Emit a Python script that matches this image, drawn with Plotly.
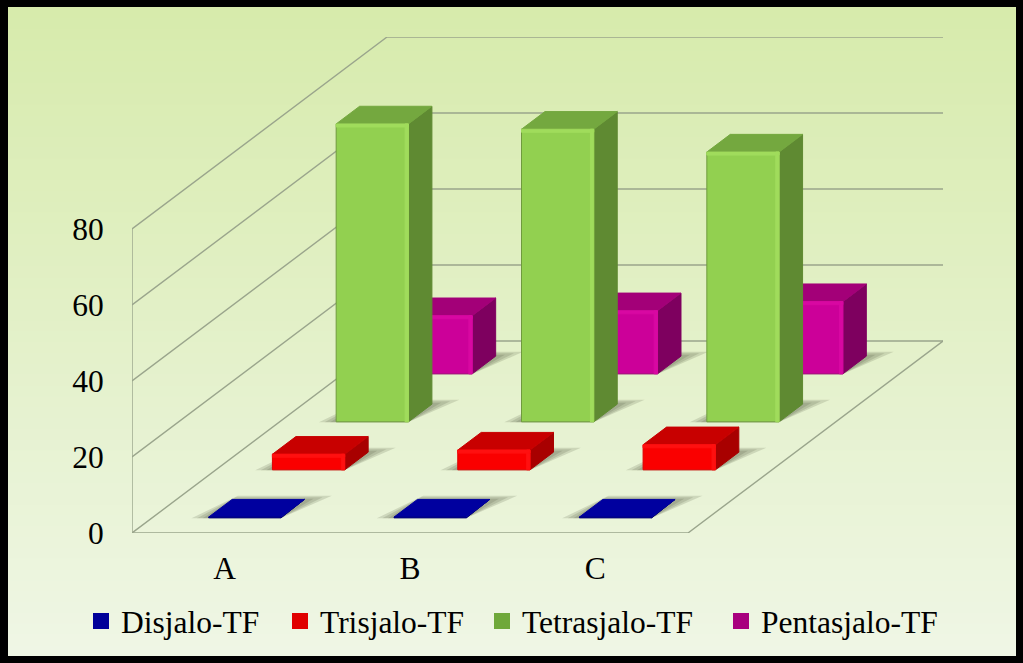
import plotly.graph_objects as go

# values
CATEGORIES = ["A", "B", "C"]
Y_TICKS = [0, 20, 40, 60, 80]
SERIES_NAMES = ["Disjalo-TF", "Trisjalo-TF", "Tetrasjalo-TF", "Pentasjalo-TF"]
DISJALO = [0.2, 0.2, 0.2]
TRISJALO = [4.1, 5.2, 6.6]
TETRASJALO = [78.4, 77.0, 71.0]
PENTASJALO = [15.3, 16.6, 19.0]
SERIES_VALUES = [DISJALO, TRISJALO, TETRASJALO, PENTASJALO]

# front, top, side, bevel, outline
SERIES_COLORS = [
    ("#000099", "#00009f", "#000070", "#0000b0", "#000080"),
    ("#fa0000", "#c80000", "#a80000", "#ff1010", "#e00000"),
    ("#92d050", "#74a83f", "#5f8a32", "#a0dc5c", "#6f9a3e"),
    ("#cc0099", "#a30078", "#7e005f", "#d808a2", "#a8007e"),
]
LEGEND_SWATCHES = ["#000099", "#e00000", "#6fa83a", "#a8007e"]
LEGEND_X = [81, 280, 482, 721]

FONT = "Liberation Serif"
LINE = "#9aa58c"

# plot area in page pixels
LEFT, RIGHT, TOP, BOTTOM = 132, 943, 37, 533
PX_PER_CAT = 185.33
PX_PER_UNIT = 3.8
X_MIN = -0.5
X_MAX = X_MIN + (RIGHT - LEFT) / PX_PER_CAT
Y_MAX = (BOTTOM - TOP) / PX_PER_UNIT

# the box runs back and up to the right, one full depth in axis units
DEPTH_X = 255 / PX_PER_CAT
DEPTH_Y = 192 / PX_PER_UNIT
BAR_HALF = 0.195
BAR_DEPTH = 0.092
BEVEL_X = 0.018
BEVEL_Y = 0.8


def project(x, depth, value):
    return x + depth * DEPTH_X, value + depth * DEPTH_Y


def polygons(polys):
    xs, ys = [], []
    for poly in polys:
        for x, d, v in poly + poly[:1]:
            px, py = project(x, d, v)
            xs.append(px)
            ys.append(py)
        xs.append(None)
        ys.append(None)
    return xs, ys


def add_polys(fig, polys, color, line_color=None):
    xs, ys = polygons(polys)
    fig.add_trace(go.Scatter(
        x=xs, y=ys, mode="lines", fill="toself", fillcolor=color,
        line=dict(color=line_color or color, width=1),
        showlegend=False, hoverinfo="skip",
    ))


fig = go.Figure()

# wall and floor lines
xs, ys = [], []
for tick in Y_TICKS:
    xs += [X_MIN, X_MIN + DEPTH_X, X_MAX, None]
    ys += [tick, tick + DEPTH_Y, tick + DEPTH_Y, None]
xs += [X_MIN, X_MIN, None, X_MIN, X_MAX - DEPTH_X, X_MAX]
ys += [0, Y_TICKS[-1], None, 0, 0, DEPTH_Y]
fig.add_trace(go.Scatter(x=xs, y=ys, mode="lines", line=dict(color=LINE, width=1.4),
                         showlegend=False, hoverinfo="skip"))

# painted back to front so nearer bars cover the ones behind
for s in [3, 2, 1, 0]:
    values = SERIES_VALUES[s]
    front_c, top_c, side_c, bevel_c, edge_c = SERIES_COLORS[s]
    d0 = (s + 0.5) / 4 - BAR_DEPTH / 2
    d1 = d0 + BAR_DEPTH
    fronts, tops, sides, bevels = [], [], [], []
    shadows = [[], [], []]
    for i, v in enumerate(values):
        x0, x1 = i - BAR_HALF, i + BAR_HALF
        # soft shadow on the floor, three widening layers
        for k, grow in enumerate([0.09, 0.06, 0.03]):
            shadows[k].append([(x0 - grow, d0 - 0.002, 0), (x1, d0 - 0.002, 0),
                               (x1 + grow * 1.3, d1 + grow * 0.25, 0), (x0, d1 + grow * 0.25, 0)])
        fronts.append([(x0, d0, 0), (x1, d0, 0), (x1, d0, v), (x0, d0, v)])
        tops.append([(x0, d0, v), (x1, d0, v), (x1, d1, v), (x0, d1, v)])
        sides.append([(x1, d0, 0), (x1, d1, 0), (x1, d1, v), (x1, d0, v)])
        if v > 1:
            bevels.append([(x1 - BEVEL_X, d0, 0), (x1, d0, 0), (x1, d0, v), (x1 - BEVEL_X, d0, v)])
            bevels.append([(x0, d0, v - min(BEVEL_Y, v / 4)), (x1, d0, v - min(BEVEL_Y, v / 4)),
                           (x1, d0, v), (x0, d0, v)])
    for layer in shadows:
        add_polys(fig, layer, "rgba(70,80,55,0.17)", "rgba(0,0,0,0)")
    add_polys(fig, sides, side_c)
    add_polys(fig, tops, top_c)
    add_polys(fig, fronts, front_c, edge_c)
    if bevels:
        add_polys(fig, bevels, bevel_c)

# one legend per series so each entry sits where the picture has it
for s, name in enumerate(SERIES_NAMES):
    fig.add_trace(go.Scatter(
        x=[None], y=[None], mode="markers", name=name,
        marker=dict(symbol="square", size=16, color=LEGEND_SWATCHES[s]),
        legend="legend" if s == 0 else f"legend{s + 1}",
    ))

legend_base = dict(xref="container", yref="container", yanchor="middle", xanchor="left",
                   y=1 - 621 / 663, bgcolor="rgba(0,0,0,0)", borderwidth=0,
                   font=dict(family=FONT, size=31.5, color="black"))

# background gradient, light towards the bottom, inside the black frame
bands = []
n_bands = 60
top_rgb, bottom_rgb = (215, 235, 172), (239, 246, 229)
for b in range(n_bands):
    t = b / (n_bands - 1)
    rgb = [round(a + (c - a) * t) for a, c in zip(top_rgb, bottom_rgb)]
    py0 = 7 + 649 * b / n_bands
    py1 = min(7 + 649 * (b + 1) / n_bands + 2, 656)
    bands.append(dict(
        type="rect", xref="paper", yref="paper", layer="below", line_width=0,
        x0=(8 - LEFT) / (RIGHT - LEFT), x1=(1016 - LEFT) / (RIGHT - LEFT),
        y0=(BOTTOM - py0) / (BOTTOM - TOP), y1=(BOTTOM - py1) / (BOTTOM - TOP),
        fillcolor=f"rgb({rgb[0]},{rgb[1]},{rgb[2]})",
    ))

fig.update_layout(
    width=1023, height=663,
    margin=dict(l=LEFT, r=1023 - RIGHT, t=TOP, b=663 - BOTTOM, autoexpand=False),
    paper_bgcolor="black",
    plot_bgcolor="rgba(0,0,0,0)",
    font=dict(family=FONT, color="black"),
    shapes=bands,
    hovermode=False,
    legend={**legend_base, "x": LEGEND_X[0] / 1023},
    legend2={**legend_base, "x": LEGEND_X[1] / 1023},
    legend3={**legend_base, "x": LEGEND_X[2] / 1023},
    legend4={**legend_base, "x": LEGEND_X[3] / 1023},
    xaxis=dict(range=[X_MIN, X_MAX], tickvals=[0, 1, 2], ticktext=CATEGORIES,
               showgrid=False, zeroline=False, showline=False, automargin=False,
               ticks="outside", ticklen=7, tickcolor="rgba(0,0,0,0)",
               tickfont=dict(family=FONT, size=31.5, color="black")),
    yaxis=dict(range=[0, Y_MAX], tickvals=Y_TICKS,
               showgrid=False, zeroline=False, showline=False, automargin=False,
               ticks="outside", ticklen=21, tickcolor="rgba(0,0,0,0)",
               tickfont=dict(family=FONT, size=31.5, color="black")),
)

# the page's default body margin would push the figure off the window
fig.write_html(
    "out.html",
    config=dict(displayModeBar=False),
    post_script="document.body.style.margin='0';document.body.style.overflow='hidden';",
)
